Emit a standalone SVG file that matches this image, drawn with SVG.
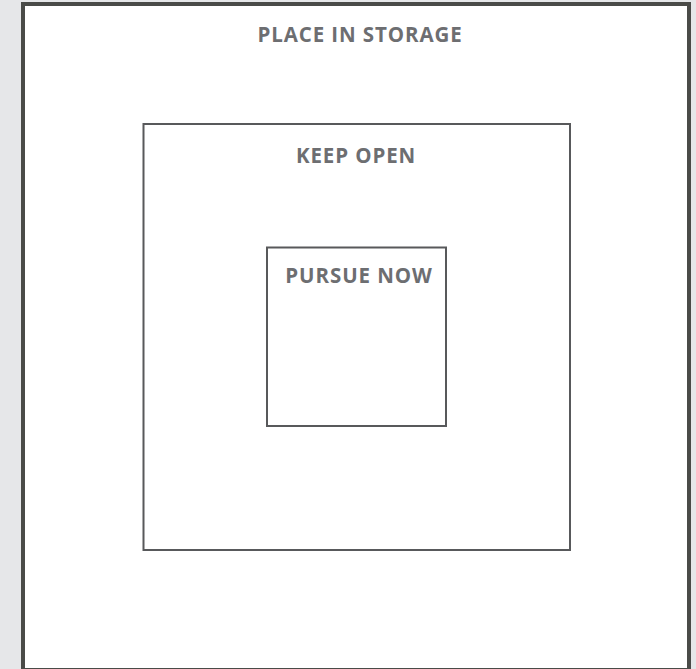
<svg xmlns="http://www.w3.org/2000/svg" width="696" height="669" viewBox="0 0 696 669">
<style>
.lbl{font-family:"Open Sans","Liberation Sans",sans-serif;font-weight:700;font-size:20.5px;fill:#6d6e71;text-anchor:middle;letter-spacing:0.9px}
.box{fill:none;stroke:#58595b;stroke-width:2}
</style>
<rect x="0" y="0" width="696" height="669" fill="#e6e7e9"/>
<g id="storage">
<rect x="23" y="4" width="666" height="666" fill="#ffffff" stroke="#4a4b48" stroke-width="4"/>
<text class="lbl" x="360" y="41.5">PLACE IN STORAGE</text>
</g>
<g id="keep-open">
<rect class="box" x="143.5" y="124" width="426.5" height="426"/>
<text class="lbl" x="356" y="162.5">KEEP OPEN</text>
</g>
<g id="pursue-now">
<rect class="box" x="267" y="247.5" width="179" height="178.5"/>
<text class="lbl" x="359" y="282.5">PURSUE NOW</text>
</g>
<g id="connectors"></g>
</svg>
